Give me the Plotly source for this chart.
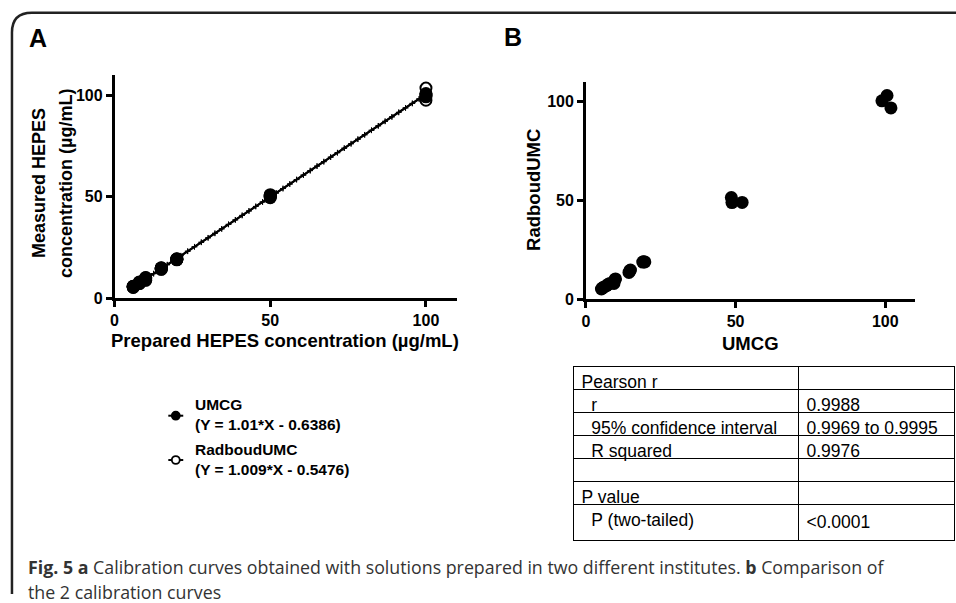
import numpy as np
import plotly.graph_objects as go

W, H = 956, 603

# ---------------- data ----------------
# Panel A: prepared concentration (triplicates) vs measured concentration
prepared = [6, 6, 6, 8, 8, 8, 10, 10, 10, 15, 15, 15, 20, 20, 20, 50, 50, 50, 100, 100, 100]
umcg_measured = [5.4, 5.7, 5.9, 7.3, 7.6, 8.0, 8.8, 9.6, 10.2, 14.2, 14.6, 15.0,
                 19.0, 19.2, 19.4, 49.5, 50.2, 51.0, 99.2, 100.0, 100.8]
radboud_measured = [5.3, 5.6, 5.8, 7.2, 7.5, 7.9, 9.0, 9.8, 10.1, 14.3, 14.7, 14.9,
                    18.9, 19.1, 19.3, 49.8, 50.3, 50.6, 97.5, 100.2, 103.5]
fit_slopes = [1.01, 1.009]
fit_intercepts = [-0.6386, -0.5476]
series_names = ["UMCG", "RadboudUMC"]
fit_labels = ["(Y = 1.01*X - 0.6386)", "(Y = 1.009*X - 0.5476)"]

# Panel B: UMCG vs RadboudUMC
umcg_b = [5.2, 5.6, 6.0, 6.9, 7.4, 8.0, 9.4, 9.7, 9.9, 14.4, 14.7, 14.9,
          19.0, 19.3, 19.7, 48.6, 48.8, 52.2, 98.9, 100.6, 101.9]
radboud_b = [5.3, 5.9, 6.2, 7.0, 7.6, 8.1, 8.1, 10.0, 10.4, 13.7, 14.5, 14.9,
             18.9, 19.1, 19.0, 51.6, 49.0, 49.1, 100.5, 103.2, 96.9]

axis_ticks = [0, 50, 100]
axis_range = [0, 110]

table_col1 = ["Pearson r", "\u00a0\u00a0r", "\u00a0\u00a095% confidence interval", "\u00a0\u00a0R squared",
              "", "P value", "\u00a0\u00a0P (two-tailed)"]
table_col2 = ["", "0.9988", "0.9969 to 0.9995", "0.9976", "", "", "<0.0001"]

# ---------------- helpers ----------------
def px(x):
    return x / W

def py(y):
    return 1 - y / H

FONT = "Liberation Sans"
CAPFONT = "Open Sans"

fig = go.Figure()

# fit lines (panel A)
xl = np.linspace(min(prepared), max(prepared), 44)
for s, b in zip(fit_slopes, fit_intercepts):
    fig.add_trace(go.Scatter(
        x=xl, y=s * xl + b, mode="lines+markers", xaxis="x", yaxis="y",
        line=dict(color="black", width=2),
        marker=dict(symbol="cross-thin", size=4, line=dict(color="black", width=1)),
        showlegend=False, hoverinfo="skip"))

# RadboudUMC open circles, UMCG filled
fig.add_trace(go.Scatter(
    x=prepared, y=radboud_measured, mode="markers", xaxis="x", yaxis="y",
    marker=dict(symbol="circle", size=11, color="white", line=dict(color="black", width=2)),
    name=series_names[1], showlegend=False, cliponaxis=False))
fig.add_trace(go.Scatter(
    x=prepared, y=umcg_measured, mode="markers", xaxis="x", yaxis="y",
    marker=dict(symbol="circle", size=13, color="black", line=dict(width=0)),
    name=series_names[0], showlegend=False, cliponaxis=False))

# Panel B
fig.add_trace(go.Scatter(
    x=umcg_b, y=radboud_b, mode="markers", xaxis="x2", yaxis="y2",
    marker=dict(symbol="circle", size=13, color="black", line=dict(width=0)),
    showlegend=False, cliponaxis=False))

# Table
fig.add_trace(go.Table(
    domain=dict(x=[px(572), px(955)], y=[py(560), py(372)]),
    columnwidth=[226, 157],
    header=dict(values=[table_col1[0], table_col2[0]], align="left", height=23,
                fill=dict(color="white"), line=dict(color="black", width=1.5),
                font=dict(family=FONT, size=17.5, color="black")),
    cells=dict(values=[table_col1[1:], table_col2[1:]], align="left", height=23,
               fill=dict(color="white"), line=dict(color="black", width=1.5),
               font=dict(family=FONT, size=17.5, color="black"))))

axis_common = dict(
    showline=True, linewidth=2.5, linecolor="black", ticks="outside", ticklen=6,
    tickwidth=2.5, tickcolor="black", showgrid=False, zeroline=False,
    tickfont=dict(family=FONT, size=16, color="black", weight="bold"),
    range=axis_range, tickvals=axis_ticks, fixedrange=True)

fig.update_layout(
    width=W, height=H, margin=dict(l=0, r=0, t=0, b=0),
    paper_bgcolor="white", plot_bgcolor="white",
    font=dict(family=FONT),
    xaxis=dict(domain=[px(111), px(455)], anchor="y", **axis_common),
    yaxis=dict(domain=[py(302.7), py(76)], anchor="x", **axis_common),
    xaxis2=dict(domain=[px(584.3), px(915)], anchor="y2", **axis_common),
    yaxis2=dict(domain=[py(304), py(83.3)], anchor="x2", **axis_common),
)

ann = []
def text(x, y, s, size, bold=True, angle=0, xanchor="center", family=FONT, color="black", align="center"):
    ann.append(dict(x=px(x), y=py(y), xref="paper", yref="paper", text=s, showarrow=False,
                    textangle=angle, xanchor=xanchor, yanchor="middle", align=align,
                    font=dict(family=family, size=size, color=color,
                              weight="bold" if bold else "normal")))

# panel labels
text(34, 39, "A", 25)
text(511, 38, "B", 25)
# axis titles
text(35, 186, "Measured HEPES", 18, angle=-90)
text(62, 186, "concentration (µg/mL)", 18, angle=-90)
text(282, 346, "Prepared HEPES concentration (µg/mL)", 18.5)
text(531, 193, "RadboudUMC", 18.5, angle=-90)
text(750, 349, "UMCG", 18.5)
# legend text
text(190, 421, series_names[0] + "<br>" + fit_labels[0], 15.5, xanchor="left", align="left")
text(190, 466, series_names[1] + "<br>" + fit_labels[1], 15.5, xanchor="left", align="left")
# caption
text(22, 576, "<b>Fig. 5 a</b> Calibration curves obtained with solutions prepared in two different institutes. "
     "<b>b</b> Comparison of", 17.8, bold=False, xanchor="left", family=CAPFONT, color="#333")
text(22, 601, "the 2 calibration curves", 17.8, bold=False, xanchor="left",
     family=CAPFONT, color="#333")

shapes = []
# frame
shapes.append(dict(type="path", xref="paper", yref="paper",
                   path=f"M {px(8)},{py(603)} L {px(8)},{py(33)} Q {px(8)},{py(13)} {px(28)},{py(13)} L {px(956)},{py(13)}",
                   line=dict(color="#222", width=2.5)))
# legend symbols
for i, yy in enumerate([422, 467]):
    shapes.append(dict(type="line", xref="paper", yref="paper", x0=px(165), x1=px(180),
                       y0=py(yy), y1=py(yy), line=dict(color="black", width=2)))
    shapes.append(dict(type="circle", xref="paper", yref="paper",
                       x0=px(172.5 - 4), x1=px(172.5 + 4), y0=py(yy + 4), y1=py(yy - 4),
                       fillcolor="black" if i == 0 else "white",
                       line=dict(color="black", width=1.8)))

fig.update_layout(annotations=ann, shapes=shapes)
fig.write_html("out.html")
